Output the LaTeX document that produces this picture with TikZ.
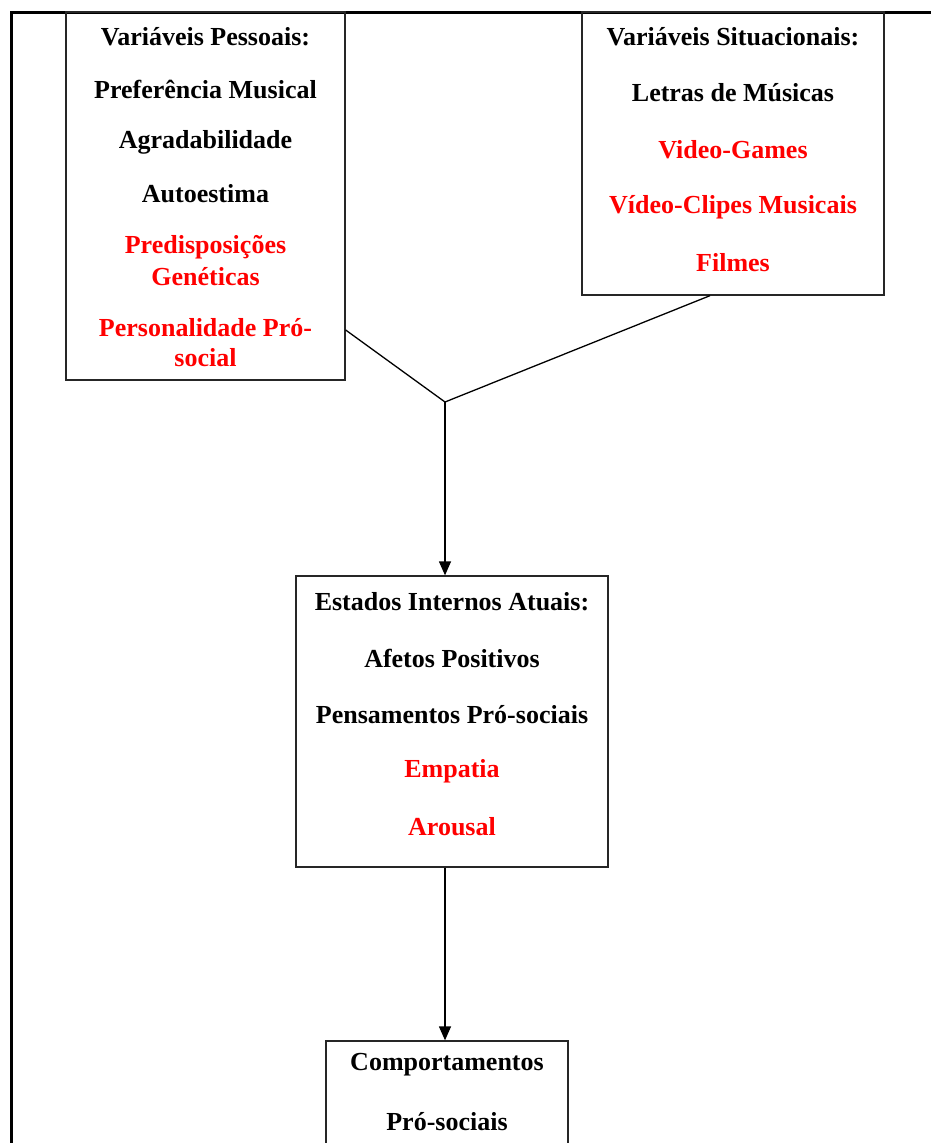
\documentclass[tikz,border=0pt]{standalone}
\usepackage{fontspec}
\setmainfont{Liberation Serif}
\usetikzlibrary{arrows.meta}
\begin{document}
\begin{tikzpicture}[x=1pt,y=-1pt,
  box/.style={draw=black!85, line width=1.3pt, rectangle, inner sep=0pt},
  lbl/.style={font=\bfseries\fontsize{26}{28}\selectfont, inner sep=0pt, anchor=center},
  hot/.style={lbl, text=red},
  link/.style={line width=1.3pt, black},
  arr/.style={link, -{Triangle[length=14pt,width=12pt]}}]
\useasboundingbox (0,0) rectangle (931,1143);
\clip (0,0) rectangle (931,1143);
\fill[white] (0,0) rectangle (931,1143);

% outer frame (only its top and left edges fall on the page)
\draw[line width=3pt] (11,1160) -- (11,12) -- (940,12);

% boxes
\node[box, minimum width=279pt, minimum height=368pt] (pess) at (205.5,196) {};
\node[box, minimum width=302pt, minimum height=283pt] (sit) at (733,153.5) {};
\node[box, minimum width=312pt, minimum height=291pt] (est) at (452,721.5) {};
\node[box, minimum width=242pt, minimum height=160pt] (comp) at (447,1121) {};

% personal variables
\node[lbl] (p0) at (205.5,37) {Variáveis Pessoais:};
\node[lbl] (p1) at (205.5,89) {Preferência Musical};
\node[lbl] (p2) at (205.5,142) {Agradabilidade};
\node[lbl] (p3) at (205.5,194) {Autoestima};
\node[hot] (p4) at (205.5,247) {Predisposições};
\node[hot] (p5) at (205.5,277) {Genéticas};
\node[hot] (p6) at (205.5,328) {Personalidade Pró-};
\node[hot] (p7) at (205.5,358) {social};

% situational variables
\node[lbl] (s0) at (733,37) {Variáveis Situacionais:};
\node[lbl] (s1) at (733,93) {Letras de Músicas};
\node[hot] (s2) at (733,150) {Video-Games};
\node[hot] (s3) at (733,207) {Vídeo-Clipes Musicais};
\node[hot] (s4) at (733,263) {Filmes};

% current internal states
\node[lbl] (e0) at (452,602) {Estados Internos Atuais:};
\node[lbl] (e1) at (452,658) {Afetos Positivos};
\node[lbl] (e2) at (452,715) {Pensamentos Pró-sociais};
\node[hot] (e3) at (452,771) {Empatia};
\node[hot] (e4) at (452,827) {Arousal};

% behaviour
\node[lbl] (c0) at (447,1065) {Comportamentos};
\node[lbl] (c1) at (447,1122) {Pró-sociais};

% connectors
\coordinate (join) at (445,402);
\draw[link] (pess.east |- 0,330) -- (join);
\draw[link] (sit.south -| 710,0) -- (join);
\draw[arr] (join) -- (join |- est.north);
\draw[arr] (est.south -| 445,0) -- (comp.north -| 445,0);
\end{tikzpicture}
\end{document}
